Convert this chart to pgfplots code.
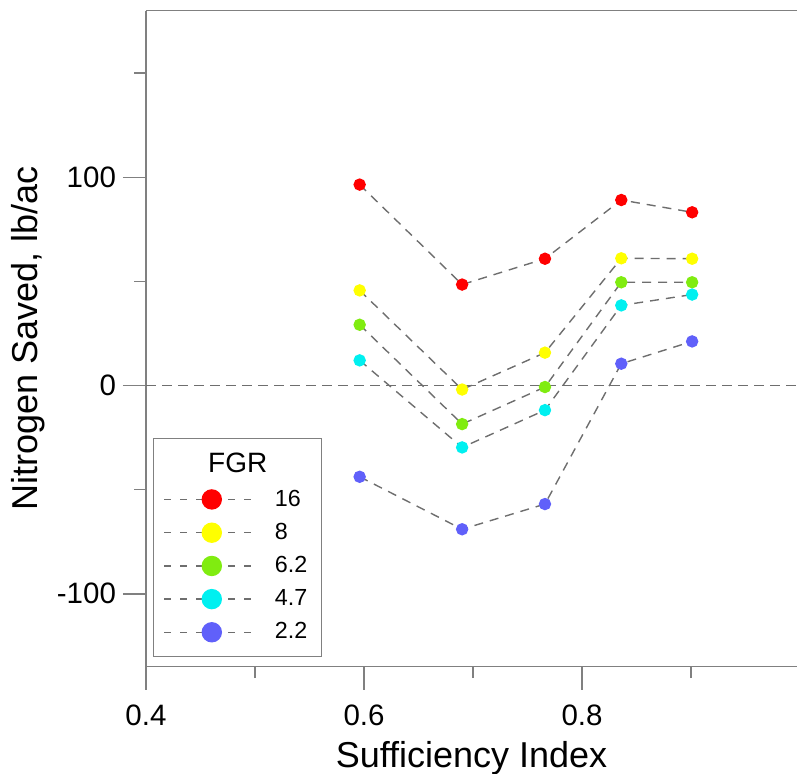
\documentclass[border=0pt]{standalone}
\usepackage{fontspec}
\setmainfont{Liberation Sans}
\usepackage{pgfplots}
\pgfplotsset{compat=1.18}
\definecolor{cRed}{RGB}{255,0,0}
\definecolor{cYel}{RGB}{255,255,0}
\definecolor{cGrn}{RGB}{128,236,16}
\definecolor{cCyn}{RGB}{0,240,240}
\definecolor{cBlu}{RGB}{96,96,250}
\definecolor{lineGray}{RGB}{110,110,110}
\definecolor{axGray}{RGB}{128,128,128}
\pgfplotsset{
  ser/.style={lineGray, dash pattern=on 4.5pt off 3.5pt, line width=0.7pt,
    mark=*, mark size=2.75pt, mark options={solid, draw=#1, fill=#1}},
}
\begin{document}
\begin{tikzpicture}
\begin{axis}[
  scale only axis, width=325.5pt, height=328pt,
  xmin=0.4, xmax=0.9972, ymin=-135, ymax=180,
  axis x line*=box, axis y line*=left,
  xtick={0.4,0.6,0.8}, xticklabels={0.4,0.6,0.8},
  minor xtick={0.5,0.7,0.9},
  ytick={-100,0,100}, yticklabels={-100,0,100},
  minor ytick={-50,50,150},
  tick pos=left, tick align=outside,
  major tick length=11.5pt, minor tick length=5.75pt,
  axis line style={axGray, line width=0.75pt},
  every tick/.style={axGray, line width=0.75pt},
  ticklabel style={font=\fontsize{14.75}{17}\selectfont, text=black},
  xticklabel style={yshift=-4pt},
  xlabel={Sufficiency Index}, ylabel={Nitrogen Saved, lb/ac},
  xlabel style={font=\fontsize{18}{21}\selectfont, at={(axis description cs:0.5,0)}, anchor=base, yshift=-50.2pt},
  ylabel style={font=\fontsize{18}{21}\selectfont, at={(axis description cs:-0.1662,0.5)}, anchor=base, rotate=0},
  legend cell align=left,
  legend image code/.code={
    \draw[lineGray, dash pattern=on 3.5pt off 4.5pt, line width=0.7pt] (0pt,0pt) -- (47.5pt,0pt);
    \draw[#1, draw=none, mark size=4.75pt] plot coordinates {(23.75pt,0pt)};
  },
  legend style={at={(axis description cs:0,0)}, anchor=south west,
    xshift=3.5pt, yshift=4.85pt, draw=axGray, line width=0.6pt,
    font=\fontsize{11.65}{14}\selectfont, row sep=3pt, column sep=5.5pt,
    inner xsep=5pt, inner ysep=5.25pt},
]
\coordinate (bl) at (rel axis cs:0,0);
\coordinate (tr) at (rel axis cs:1,1);
\addplot[lineGray, dash pattern=on 5pt off 3pt, line width=0.7pt, forget plot] coordinates {(0.4,0) (0.9972,0)};
\addlegendimage{empty legend}
\addlegendentry{\hspace*{-34.3pt}\fontsize{14}{16}\selectfont FGR}
\addplot[ser=cRed] coordinates {(0.596,96.5) (0.690,48.5) (0.766,60.9) (0.836,89.1) (0.901,83.2)};
\addlegendentry{16}
\addplot[ser=cYel] coordinates {(0.596,45.7) (0.690,-1.9) (0.766,15.8) (0.836,61.1) (0.901,60.9)};
\addlegendentry{8}
\addplot[ser=cGrn] coordinates {(0.596,29.2) (0.690,-18.5) (0.766,-0.7) (0.836,49.6) (0.901,49.6)};
\addlegendentry{6.2}
\addplot[ser=cCyn] coordinates {(0.596,12.1) (0.690,-29.7) (0.766,-11.8) (0.836,38.5) (0.901,43.7)};
\addlegendentry{4.7}
\addplot[ser=cBlu] coordinates {(0.596,-43.8) (0.690,-69.0) (0.766,-56.9) (0.836,10.5) (0.901,21.2)};
\addlegendentry{2.2}
\end{axis}
\pgfresetboundingbox
\path ([xshift=-73pt,yshift=-53.15pt]bl) rectangle ([yshift=5.35pt]tr);
\end{tikzpicture}
\end{document}
